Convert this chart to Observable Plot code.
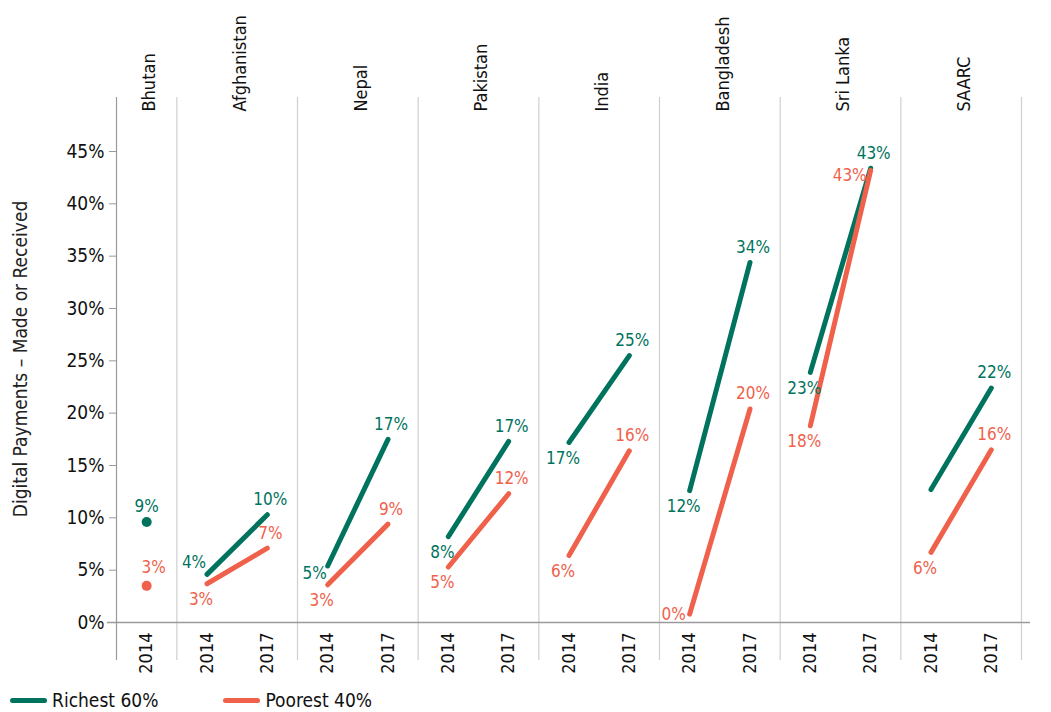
<!DOCTYPE html>
<html>
<head>
<meta charset="utf-8">
<script src="https://cdn.jsdelivr.net/npm/d3@7"></script>
<script src="https://cdn.jsdelivr.net/npm/@observablehq/plot@0.6"></script>
<style>
  body { margin: 0; background: #fff; }
  #chart svg { display: block; }
  #legend { display: flex; align-items: center; height: 32px; padding-top: 4px; font-family: "Liberation Sans Narrow", "DejaVu Sans Condensed", "Roboto Condensed", Roboto, sans-serif; font-size: 19px; color: #111; }
  .item { display: flex; align-items: center; }
  .swatch { width: 37px; height: 5px; border-radius: 3px; margin: 0 5px 0 10px; }
</style>
</head>
<body>
<div id="chart"></div>
<div id="legend"></div>
<script>
const FONT = '"Liberation Sans Narrow", "DejaVu Sans Condensed", "Roboto Condensed", Roboto, sans-serif';

// ---- data (percent) ----
const countries = ["Bhutan", "Afghanistan", "Nepal", "Pakistan", "India", "Bangladesh", "Sri Lanka", "SAARC"];
const years = [2014, 2017];
const seriesNames = ["Richest 60%", "Poorest 40%"];
const richest2014 = [9.6, 4.6, 5.4, 8.2, 17.2, 12.6, 23.9, 12.7];
const richest2017 = [null, 10.3, 17.5, 17.3, 25.5, 34.4, 43.4, 22.4];
const poorest2014 = [3.5, 3.7, 3.6, 5.3, 6.4, 0.8, 18.8, 6.7];
const poorest2017 = [null, 7.1, 9.4, 12.3, 16.4, 20.4, 43.2, 16.5];
const hiddenLabels = ["SAARC|Richest 60%|2014"];
const yTicks = [0, 5, 10, 15, 20, 25, 30, 35, 40, 45];
const colors = ["#00735E", "#F0614C"];

// ---- label placement (style) ----
const labelSides = {
  "Bhutan|Richest 60%|2014": "top",
  "Bhutan|Poorest 40%|2014": "topRight",
  "Afghanistan|Richest 60%|2014": "aboveLeft",
  "Nepal|Richest 60%|2014": "leftBelow",
  "Bangladesh|Poorest 40%|2014": "left",
  "Sri Lanka|Poorest 40%|2017": "leftLow"
};
const offsets = {
  below: [-6, 16], above: [3, -15], left: [-16, 0], aboveLeft: [-13, -12],
  leftBelow: [-13, 8], top: [0, -15], topRight: [7, -18], leftLow: [-21, 5]
};

// ---- build rows ----
const valuesBy = {
  "Richest 60%": {2014: richest2014, 2017: richest2017},
  "Poorest 40%": {2014: poorest2014, 2017: poorest2017}
};
const slots = [];
const groups = [];
const boundaries = [0];
let pos = 0;
countries.forEach((c, i) => {
  const start = pos;
  years.forEach(yr => {
    if (richest2017[i] == null && yr === 2017) return;
    slots.push({country: c, year: yr, ci: i, x: pos + 0.5});
    pos++;
  });
  groups.push({country: c, x: (start + pos) / 2, n: pos - start});
  boundaries.push(pos);
});
const points = [];
slots.forEach(s => {
  seriesNames.forEach(sr => {
    const v = valuesBy[sr][s.year][s.ci];
    const key = `${s.country}|${sr}|${s.year}`;
    points.push({...s, series: sr, value: v, key,
      label: hiddenLabels.includes(key) ? "" : Math.floor(v) + "%",
      side: labelSides[key] ?? (s.year === 2014 ? "below" : "above")});
  });
});
const singles = points.filter(d => groups.find(g => g.country === d.country).n === 1);

const labelMarks = Object.entries(offsets).map(([side, [dx, dy]]) =>
  Plot.text(points.filter(d => d.side === side), {
    x: "x", y: "value", text: "label", fill: "series", dx, dy,
    fontSize: 17, fontFamily: FONT
  })
);

const chart = Plot.plot({
  width: 1051,
  height: 680,
  marginLeft: 116,
  marginRight: 30,
  marginTop: 97,
  marginBottom: 20,
  style: {fontFamily: FONT, fontSize: "18px", color: "#111", background: "#fff"},
  x: {domain: [0, pos], axis: null},
  y: {domain: [0, 45], range: [622, 151], axis: null},
  color: {domain: seriesNames, range: colors},
  marks: [
    Plot.ruleX(boundaries.slice(1), {stroke: "#cfcfcf", strokeWidth: 1.2}),
    Plot.ruleX([0], {stroke: "#9a9a9a", strokeWidth: 1.2}),
    Plot.ruleY([0], {stroke: "#9a9a9a", strokeWidth: 1.5, insetLeft: -9, insetRight: -9}),
    Plot.axisY({ticks: yTicks, tickFormat: d => d + "%", tickSize: 7, tickPadding: 5, stroke: "#9a9a9a", label: null, fontSize: 19, fill: "#111"}),
    Plot.text(["Digital Payments – Made or Received"], {frameAnchor: "left", textAnchor: "middle", dx: -96, dy: -20, rotate: -90, fontSize: 19, fill: "#222"}),
    Plot.text(groups, {x: "x", text: "country", frameAnchor: "top", dx: -4, dy: 14, rotate: -90, textAnchor: "start", fontSize: 18, fill: "#111"}),
    Plot.text(slots, {x: "x", y: () => 0, text: d => String(d.year), dy: 10, rotate: -90, textAnchor: "end", fontSize: 18, fill: "#111"}),
    Plot.line(points, {x: "x", y: "value", z: d => d.country + d.series, stroke: "series", strokeWidth: 5, strokeLinecap: "round"}),
    Plot.dot(singles, {x: "x", y: "value", fill: "series", r: 5}),
    ...labelMarks
  ]
});
document.getElementById("chart").append(chart);

const legend = document.getElementById("legend");
seriesNames.forEach((s, i) => {
  const item = document.createElement("div");
  item.className = "item";
  item.style.marginRight = i === 0 ? "55px" : "0";
  const sw = document.createElement("div");
  sw.className = "swatch";
  sw.style.background = colors[i];
  const t = document.createElement("span");
  t.textContent = s;
  item.append(sw, t);
  legend.append(item);
});
</script>
</body>
</html>
